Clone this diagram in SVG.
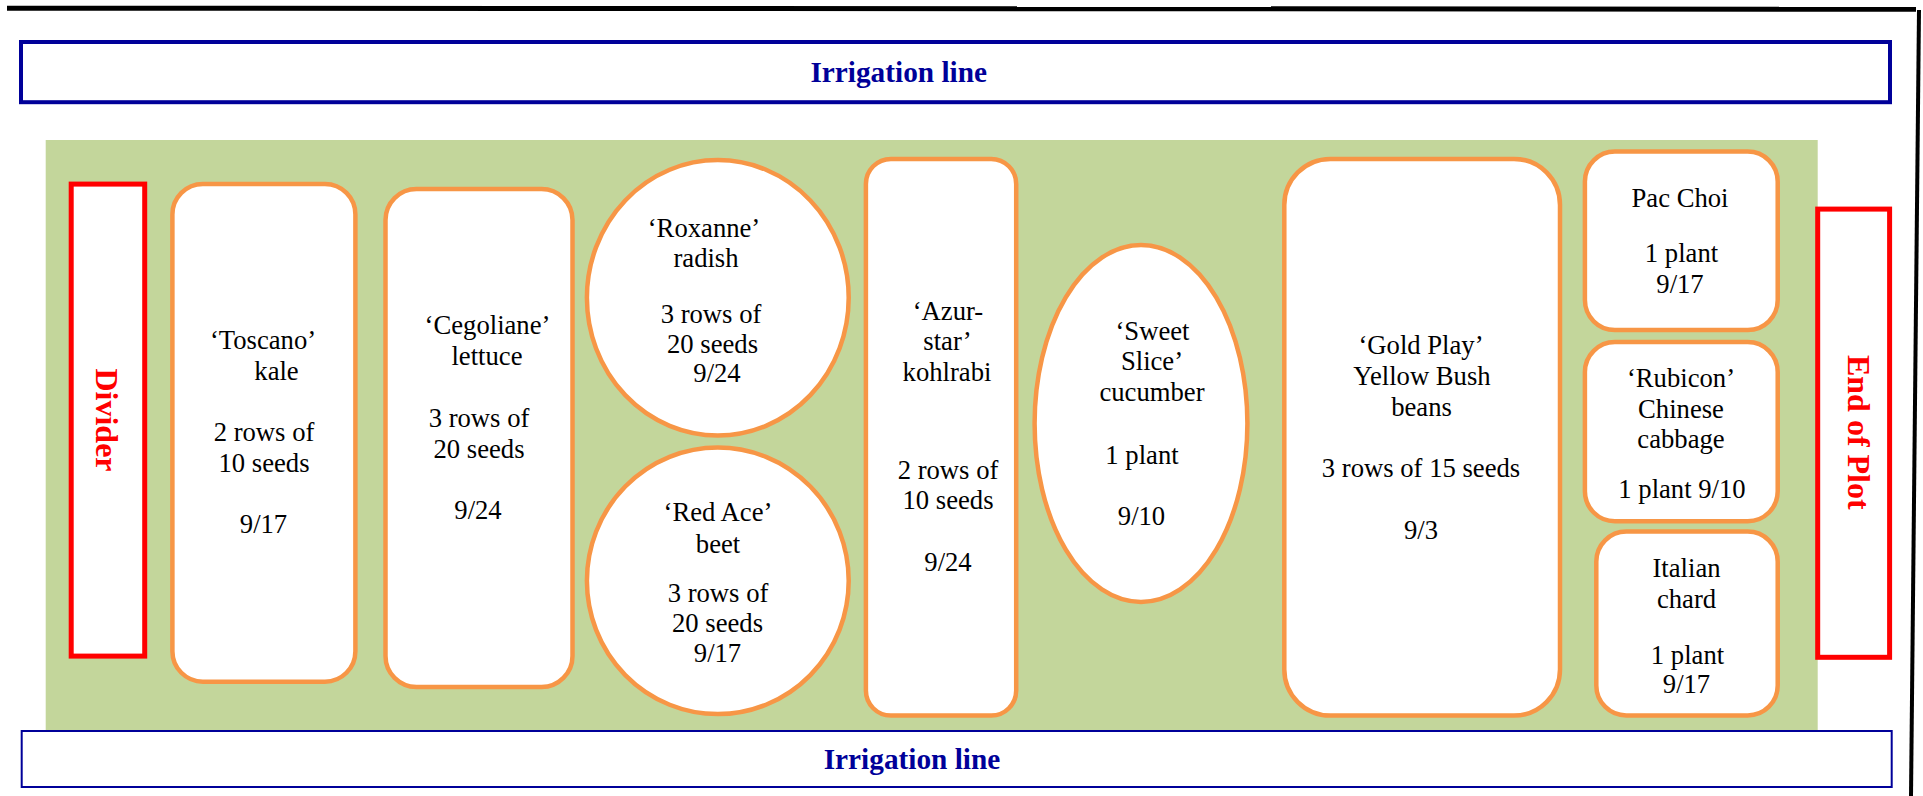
<svg xmlns="http://www.w3.org/2000/svg" width="1923" height="796" viewBox="0 0 1923 796">
<style>
.bed{fill:#FFFFFF;stroke:#F79646;stroke-width:4.5}
.red{fill:#FFFFFF;stroke:#FF0000;stroke-width:5}
.irr{fill:#FFFFFF;stroke:#000099}
.t{font-family:"Liberation Serif","Times New Roman",serif;font-size:26.67px;fill:#000000;text-anchor:middle}
.it{font-family:"Liberation Serif","Times New Roman",serif;font-size:29.3px;font-weight:bold;fill:#000099;text-anchor:middle}
.rt{font-family:"Liberation Serif","Times New Roman",serif;font-size:32px;font-weight:bold;fill:#FF0000;text-anchor:middle}
</style>
<rect x="0" y="0" width="1923" height="796" fill="#FFFFFF"/>
<g id="frame">
<line x1="7" y1="8.2" x2="1916" y2="9.2" stroke="#000000" stroke-width="5"/>
<line x1="1919" y1="10" x2="1911" y2="796" stroke="#000000" stroke-width="4"/>
</g>
<g id="plot">
<rect x="45.7" y="140" width="1772" height="591" fill="#C3D69B"/>
</g>
<g id="irrigation-top">
<rect class="irr" x="21" y="42" width="1869" height="60.2" stroke-width="4"/>
<text class="it" x="898.7" y="81.7">Irrigation line</text>
</g>
<g id="irrigation-bottom">
<rect class="irr" x="21.7" y="731" width="1870" height="56" stroke-width="2"/>
<text class="it" x="912" y="768.7">Irrigation line</text>
</g>
<g id="divider">
<rect class="red" x="71.2" y="184.1" width="73.5" height="472"/>
<text class="rt" transform="translate(96,420) rotate(90)" x="0" y="0">Divider</text>
</g>
<g id="end-of-plot">
<rect class="red" x="1817.7" y="209.1" width="71.9" height="448.2"/>
<text class="rt" transform="translate(1847.7,432.3) rotate(90)" x="0" y="0">End of Plot</text>
</g>
<g id="toscano-kale">
<rect class="bed" x="172.4" y="183.9" width="183" height="497.8" rx="30.5" ry="30.5"/>
<text class="t" x="263" y="349">‘Toscano’</text>
<text class="t" x="276.5" y="380">kale</text>
<text class="t" x="264" y="441">2 rows of</text>
<text class="t" x="264" y="472">10 seeds</text>
<text class="t" x="263.5" y="533">9/17</text>
</g>
<g id="cegoliane-lettuce">
<rect class="bed" x="385.5" y="189" width="187" height="498" rx="31" ry="31"/>
<text class="t" x="487.5" y="334">‘Cegoliane’</text>
<text class="t" x="487" y="365">lettuce</text>
<text class="t" x="479" y="427">3 rows of</text>
<text class="t" x="479" y="458">20 seeds</text>
<text class="t" x="478" y="519">9/24</text>
</g>
<g id="roxanne-radish">
<ellipse class="bed" cx="717.8" cy="297.8" rx="130.9" ry="137.7"/>
<text class="t" x="704" y="237">‘Roxanne’</text>
<text class="t" x="706" y="266.5">radish</text>
<text class="t" x="711" y="323">3 rows of</text>
<text class="t" x="712.5" y="353">20 seeds</text>
<text class="t" x="717" y="382">9/24</text>
</g>
<g id="red-ace-beet">
<ellipse class="bed" cx="717.8" cy="580.8" rx="130.9" ry="133.3"/>
<text class="t" x="718" y="521">‘Red Ace’</text>
<text class="t" x="718" y="552.5">beet</text>
<text class="t" x="718" y="602">3 rows of</text>
<text class="t" x="717.5" y="632">20 seeds</text>
<text class="t" x="717.5" y="661.5">9/17</text>
</g>
<g id="azur-star-kohlrabi">
<rect class="bed" x="865.9" y="158.9" width="150.3" height="556.7" rx="25" ry="25"/>
<text class="t" x="948" y="319.5">‘Azur-</text>
<text class="t" x="947.5" y="350">star’</text>
<text class="t" x="947" y="380.5">kohlrabi</text>
<text class="t" x="948" y="478.5">2 rows of</text>
<text class="t" x="948" y="509">10 seeds</text>
<text class="t" x="948" y="571">9/24</text>
</g>
<g id="sweet-slice-cucumber">
<ellipse class="bed" cx="1141" cy="423.5" rx="106.4" ry="178.4"/>
<text class="t" x="1152.5" y="340">‘Sweet</text>
<text class="t" x="1152" y="370">Slice’</text>
<text class="t" x="1152" y="401">cucumber</text>
<text class="t" x="1142" y="464">1 plant</text>
<text class="t" x="1141.5" y="525">9/10</text>
</g>
<g id="gold-play-beans">
<rect class="bed" x="1284.3" y="158.9" width="275.7" height="556.7" rx="46" ry="46"/>
<text class="t" x="1421" y="354">‘Gold Play’</text>
<text class="t" x="1422" y="385">Yellow Bush</text>
<text class="t" x="1421.5" y="415.5">beans</text>
<text class="t" x="1421" y="477">3 rows of 15 seeds</text>
<text class="t" x="1421" y="538.5">9/3</text>
</g>
<g id="pac-choi">
<rect class="bed" x="1584.9" y="151.5" width="192.8" height="178.6" rx="30" ry="30"/>
<text class="t" x="1680" y="206.5">Pac Choi</text>
<text class="t" x="1681.5" y="262">1 plant</text>
<text class="t" x="1680" y="293">9/17</text>
</g>
<g id="rubicon-chinese-cabbage">
<rect class="bed" x="1584.9" y="342.1" width="192.8" height="179.2" rx="30" ry="30"/>
<text class="t" x="1681" y="387">‘Rubicon’</text>
<text class="t" x="1681" y="418">Chinese</text>
<text class="t" x="1681" y="448">cabbage</text>
<text class="t" x="1682" y="498">1 plant 9/10</text>
</g>
<g id="italian-chard">
<rect class="bed" x="1596.3" y="531.5" width="181.4" height="184" rx="30" ry="30"/>
<text class="t" x="1686.5" y="577">Italian</text>
<text class="t" x="1686.5" y="608">chard</text>
<text class="t" x="1687.5" y="663.5">1 plant</text>
<text class="t" x="1686.5" y="693">9/17</text>
</g>
<g id="connectors"/>
</svg>
